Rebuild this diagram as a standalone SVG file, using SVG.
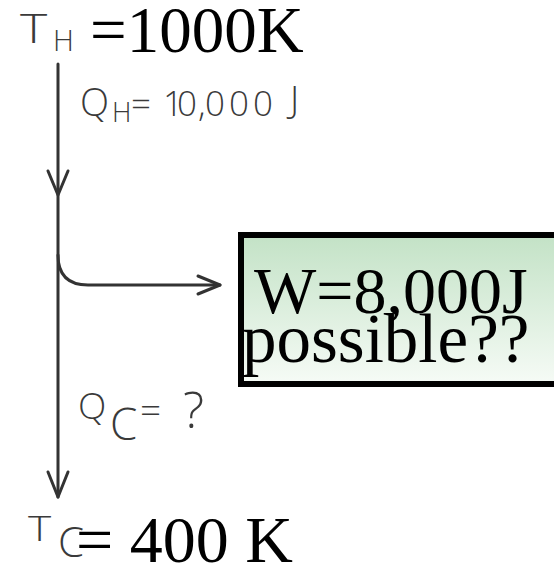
<svg xmlns="http://www.w3.org/2000/svg" width="554" height="569" viewBox="0 0 554 569">
<defs>
<linearGradient id="g" x1="0" y1="0" x2="0" y2="1">
<stop offset="0" stop-color="#c3e2c6"/>
<stop offset="1" stop-color="#f6fbf6"/>
</linearGradient>
<style>
.tm{font-family:"Liberation Serif","Times New Roman",serif;fill:#000}
.hw{font-family:"Open Sans","DejaVu Sans",sans-serif;font-weight:300;fill:#3a3a3a}
.ln{fill:none;stroke:#333;stroke-width:3;stroke-linecap:round;stroke-linejoin:round}
</style>
</defs>
<rect width="554" height="569" fill="#fff"/>
<g id="connectors">
<path class="ln" d="M58,64 V497"/>
<path class="ln" d="M48,171 L58,195 L68,171"/>
<path class="ln" d="M48,472 L58,497 L68,472"/>
<path class="ln" d="M58,255 Q58,285 88,285 H220"/>
<path class="ln" d="M198,276 L220,285 L198,294"/>
</g>
<g id="hot">
<text class="hw" x="20" y="43" font-size="40" transform="translate(20,43) scale(1.3,1) translate(-20,-43)">T</text>
<text class="hw" x="53" y="51" font-size="29">H</text>
<text class="tm" x="90" y="52" font-size="65">=1000K</text>
</g>
<g id="qh">
<text class="hw" x="80" y="116" font-size="38">Q</text>
<text class="hw" x="112" y="122" font-size="27">H</text>
<text class="hw" y="116" font-size="35" x="131 163 177 198 205 229 253">=10,000</text>
<text class="hw" x="290" y="112" font-size="37">J</text>
</g>
<g id="work">
<rect x="241" y="235" width="330" height="149" fill="url(#g)" stroke="#000" stroke-width="6"/>
<text class="tm" x="254" y="313" font-size="66">W=8,000J</text>
<text class="tm" x="242" y="362" font-size="69">possible??</text>
</g>
<g id="qc">
<text class="hw" x="78" y="419" font-size="37">Q</text>
<text class="hw" x="110" y="440" font-size="44">C</text>
<text class="hw" x="140" y="424" font-size="37">=</text>
<text class="hw" x="183" y="428" font-size="50">?</text>
</g>
<g id="cold">
<text class="hw" x="28" y="541" font-size="34" transform="translate(28,541) scale(1.3,1) translate(-28,-541)">T</text>
<text class="hw" x="58" y="557" font-size="42">C</text>
<text class="tm" x="76" y="562" font-size="66">= 400 K</text>
</g>
</svg>
